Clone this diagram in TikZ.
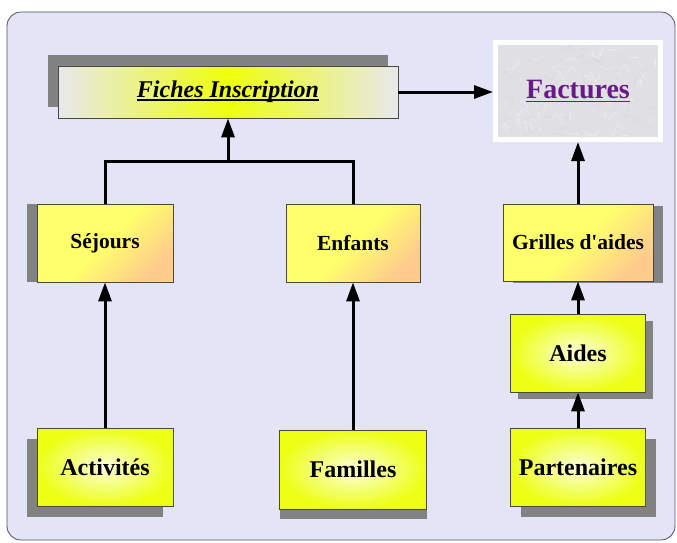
\documentclass[tikz,border=0pt]{standalone}
\usepackage{fontspec}
\setmainfont{Liberation Serif}
\usetikzlibrary{arrows.meta,shadows}
\definecolor{panelc}{HTML}{E4E4F7}
\definecolor{panelb}{HTML}{50505E}
\definecolor{shadc}{HTML}{828282}
\definecolor{bordc}{HTML}{4A4A3C}
\definecolor{ylwA}{HTML}{FFFF6C}
\definecolor{peach}{HTML}{FFCC8E}
\definecolor{radin}{HTML}{FCFFDA}
\definecolor{radout}{HTML}{ECFF14}
\definecolor{fgray}{HTML}{E8E8EE}
\definecolor{fyel}{HTML}{EEFF0C}
\definecolor{factin}{HTML}{E0E0E4}
\definecolor{factlt}{HTML}{EBEBEE}
\definecolor{factdk}{HTML}{D6D6DA}
\definecolor{purp}{HTML}{6A1A88}
\newcommand\myul[3]{\setbox0\hbox{#1}\rlap{\rule[#2]{\wd0}{#3}}\box0}
\begin{document}
\begin{tikzpicture}[x=1pt,y=-1pt,
  box/.style={draw=bordc, line width=0.8pt, inner sep=0pt, align=center},
  warm/.style={box, top color=ylwA, bottom color=peach, middle color=ylwA, shading angle=45,
    font=\fontsize{21.5}{24}\selectfont\bfseries},
  glow/.style={box, inner color=radin, outer color=radout,
    font=\fontsize{24}{26}\selectfont\bfseries},
  sh/.style={general shadow={fill=shadc, #1}},
  conn/.style={line width=3pt, black},
  arr/.style={conn, -{Triangle[length=19pt,width=13pt]}}
]
\useasboundingbox (0,0) rectangle (677,542);
\fill[white] (0,0) rectangle (677,542);
\draw[fill=panelc, draw=panelb, line width=0.8pt, rounded corners=14pt] (7,12) rectangle (675,540);

% Fiches Inscription
\node[box, left color=fgray, right color=fgray, middle color=fyel,
      minimum width=340, minimum height=52,
      sh={shadow xshift=-10pt, shadow yshift=11pt},
      font=\fontsize{24}{26}\selectfont\bfseries\itshape]
  (fiches) at (228,92) {\myul{Fiches Inscription}{-3pt}{1.3pt}};

% Factures
\node[draw=white, line width=5pt, fill=factin, minimum width=165, minimum height=97, inner sep=0pt]
  (factures) at (578,91) {};
\begin{scope}
  \clip (498,45) rectangle (657,137);
  \pgfmathsetseed{7}
  \foreach \i in {1,...,70}{
    \pgfmathsetmacro{\xa}{498+rnd*160}
    \pgfmathsetmacro{\ya}{45+rnd*92}
    \pgfmathsetmacro{\dx}{(rnd-0.5)*30}
    \pgfmathsetmacro{\dy}{(rnd-0.5)*20}
    \draw[factlt, line width=0.7pt] (\xa,\ya) .. controls (\xa+\dx*0.5,\ya-\dy) .. (\xa+\dx,\ya+\dy*0.3);
  }
  \foreach \i in {1,...,40}{
    \pgfmathsetmacro{\xa}{498+rnd*160}
    \pgfmathsetmacro{\ya}{45+rnd*92}
    \pgfmathsetmacro{\dx}{(rnd-0.5)*24}
    \pgfmathsetmacro{\dy}{(rnd-0.5)*16}
    \draw[factdk, line width=0.4pt] (\xa,\ya) .. controls (\xa+\dx*0.5,\ya+\dy) .. (\xa+\dx,\ya-\dy*0.3);
  }
\end{scope}
\node[text=purp, font=\fontsize{28}{30}\selectfont\bfseries, inner sep=0pt]
  (facttxt) at (factures.center) {\myul{Factures}{-4pt}{1.6pt}};

% middle row
\node[warm, minimum width=136, minimum height=78, sh={shadow xshift=-10pt, shadow yshift=0pt}]
  (sejours) at (105,243) {Séjours};
\node[warm, minimum width=134, minimum height=78] (enfants) at (353,243) {Enfants};
\node[warm, minimum width=150, minimum height=77, sh={shadow xshift=10pt, shadow yshift=-2pt}]
  (grilles) at (578,242.5) {Grilles d\textquotesingle aides};

% Aides
\node[glow, minimum width=135, minimum height=78, sh={shadow xshift=7pt, shadow yshift=-7pt}]
  (aides) at (578,353) {Aides};

% bottom row
\node[glow, minimum width=136, minimum height=78, sh={shadow xshift=-10pt, shadow yshift=-11pt}]
  (activites) at (105,467) {Activités};
\node[glow, minimum width=147, minimum height=79, sh={shadow xshift=0pt, shadow yshift=-10pt}]
  (familles) at (353,469.5) {Familles};
\node[glow, minimum width=135, minimum height=78, sh={shadow xshift=10pt, shadow yshift=-11pt}]
  (partenaires) at (578,467) {Partenaires};

% connectors
\coordinate (j) at (228,161);
\draw[conn] (sejours.north) |- (j) -| (enfants.north);
\draw[arr] (j) -- (fiches.south);
\draw[arr] (fiches.east) -- (fiches.east -| factures.west);
\draw[arr] (activites.north) -- (sejours.south);
\draw[arr] (familles.north) -- (familles.north |- enfants.south);
\draw[arr] (partenaires.north) -- (aides.south);
\draw[arr] (aides.north) -- (grilles.south);
\draw[arr] (grilles.north) -- (factures.south);
\end{tikzpicture}
\end{document}
